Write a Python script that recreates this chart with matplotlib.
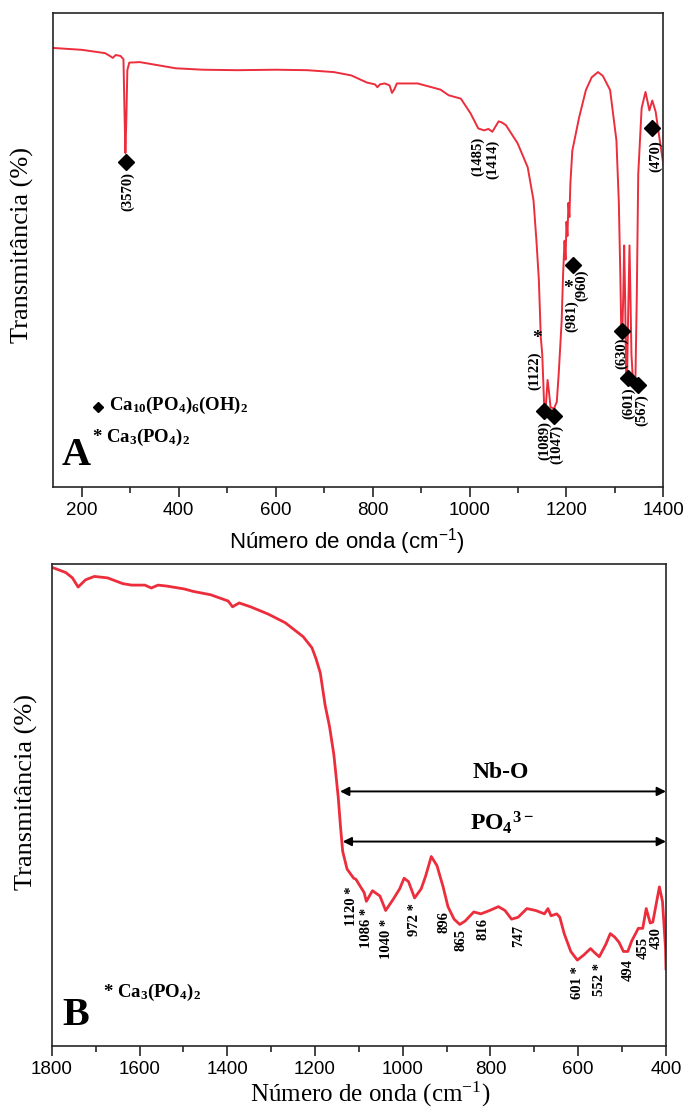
import matplotlib
matplotlib.use('Agg')
import matplotlib.pyplot as plt
from matplotlib.ticker import MultipleLocator

plt.rcParams['mathtext.default'] = 'regular'

SERIF = 'Liberation Serif'
SANS = 'Liberation Sans'
RED = '#EC2D3C'
FRAME = '#262626'

# ---------------------------
# Panel A data (as plotted on the original axis)
# ---------------------------
a_wn = [140, 200, 248, 258, 264, 270, 280, 286, 288, 290, 292, 294, 298, 320, 360, 394,
        450, 521, 600, 665, 720, 756, 788, 805, 810, 815, 825, 835, 840, 845, 850, 893,
        940, 957, 982, 1002, 1018, 1030, 1039, 1047, 1060, 1066, 1075, 1099, 1120, 1132,
        1138, 1143, 1147, 1150, 1154, 1157, 1161, 1164, 1167, 1174, 1180, 1184, 1190,
        1193, 1196, 1198, 1200, 1202, 1204, 1206, 1208, 1212, 1226, 1240, 1252, 1265,
        1275, 1290, 1303, 1308, 1311, 1313, 1315, 1317, 1319, 1321, 1323, 1325, 1327,
        1330, 1332, 1334, 1337, 1342, 1345, 1348, 1355, 1363, 1368, 1371, 1377, 1384,
        1392, 1400]
a_tr = [92.7, 92.3, 91.6, 91.0, 90.6, 91.2, 91.0, 90.3, 80.0, 70.5, 78.0, 88.0, 89.6,
        89.7, 89.0, 88.4, 88.1, 88.0, 88.1, 88.0, 87.6, 86.9, 85.4, 85.0, 84.4, 85.0,
        85.2, 84.8, 83.2, 84.0, 85.2, 85.2, 83.9, 82.7, 82.0, 78.9, 75.7, 75.3, 75.6,
        75.0, 77.2, 77.0, 76.4, 72.6, 67.5, 60.5, 52.0, 43.7, 31.6, 28.0, 17.0, 16.5,
        22.6, 20.0, 16.9, 16.5, 18.0, 24.0, 35.0, 45.0, 52.0, 48.0, 56.0, 53.0, 60.0,
        57.0, 64.0, 71.0, 78.0, 83.8, 86.5, 87.6, 86.8, 83.8, 73.2, 60.0, 45.0, 33.0,
        32.0, 40.0, 51.0, 40.0, 24.0, 23.0, 35.0, 51.0, 40.0, 28.0, 22.6, 21.5, 40.0,
        66.0, 80.0, 83.4, 81.0, 79.5, 81.6, 79.2, 73.5, 68.0]

# hydroxyapatite (diamond) and Ca3(PO4)2 (asterisk) markers
a_hap_x = [291, 1154, 1175, 1214, 1314, 1326, 1348, 1376]
a_hap_y = [68.6, 16.1, 15.0, 46.8, 33.0, 23.0, 21.5, 75.7]
a_tcp_x = [1140, 1203]
a_tcp_y = [31.4, 42.0]

a_labels = ['(3570)', '(1485)', '(1414)', '(470)', '(1122)', '(1089)', '(1047)',
            '(981)', '(960)', '(630)', '(601)', '(567)']
a_label_x = [294, 1016, 1048, 1383, 1134, 1154, 1179, 1210, 1231, 1314, 1328, 1355]
a_label_y = [62.4, 69.8, 69.2, 69.8, 24.5, 9.9, 8.9, 36.0, 42.6, 28.3, 17.7, 16.2]

# ---------------------------
# Panel B data
# ---------------------------
b_wn = [1800, 1768, 1753, 1740, 1723, 1703, 1673, 1638, 1618, 1588, 1573, 1558, 1538,
        1498, 1478, 1438, 1398, 1388, 1373, 1347, 1307, 1268, 1227, 1207, 1198, 1188,
        1177, 1167, 1157, 1147, 1142, 1137, 1127, 1112, 1107, 1088, 1083, 1069, 1052,
        1039, 1022, 1007, 997, 987, 973, 958, 948, 935, 922, 908, 897, 883, 870, 858,
        838, 822, 802, 782, 767, 752, 737, 717, 697, 677, 669, 662, 649, 642, 632, 617,
        602, 587, 572, 562, 552, 537, 527, 517, 507, 497, 487, 478, 463, 453, 445, 436,
        430, 415, 408, 401, 400]
b_tr = [99.3, 98.2, 97.1, 95.2, 96.7, 97.4, 97.1, 95.9, 95.6, 95.6, 95.0, 95.6, 95.4,
        94.8, 94.3, 93.6, 92.3, 91.1, 91.9, 91.1, 89.6, 87.8, 84.9, 82.6, 80.4, 77.4,
        70.7, 66.3, 60.4, 51.5, 45.6, 40.4, 36.7, 34.8, 34.6, 31.8, 30.0, 32.2, 31.1,
        28.1, 30.4, 32.6, 34.8, 34.1, 30.7, 32.6, 35.2, 39.3, 37.4, 33.0, 28.9, 26.3,
        25.2, 25.9, 27.8, 27.4, 28.1, 28.9, 28.1, 26.3, 26.7, 28.5, 28.1, 27.4, 28.5,
        27.0, 27.4, 26.7, 23.3, 19.6, 17.8, 18.9, 20.2, 19.3, 18.5, 21.1, 23.3, 22.6,
        21.5, 19.6, 19.6, 21.8, 24.4, 24.4, 28.5, 25.5, 25.7, 33.0, 30.0, 20.2, 16.0]

b_labels = ['1120 *', '1086 *', '1040 *', '972 *', '896', '865', '816', '747',
            '601 *', '552 *', '494', '455', '430']
b_label_x = [1117, 1083, 1038, 973, 907, 867, 817, 737, 602, 552, 487, 452, 422]
b_label_y = [28.9, 24.4, 22.2, 26.3, 25.7, 22.0, 24.3, 22.8, 13.2, 13.7, 15.8, 20.4, 22.3]

b_bands = ['Nb-O', 'PO$_4$$^{3-}$']
b_band_start = [1143, 1137]
b_band_end = [400, 400]
b_band_y = [52.8, 42.4]


def style_axes(ax):
    for s in ax.spines.values():
        s.set_color(FRAME)
        s.set_linewidth(1.2)
    ax.set_yticks([])
    ax.set_ylim(0, 100)
    ax.xaxis.set_major_locator(MultipleLocator(200))
    ax.xaxis.set_minor_locator(MultipleLocator(100))
    ax.tick_params(axis='x', which='major', direction='out', length=7, width=1.2,
                   color=FRAME, labelsize=13.5, pad=4)
    ax.tick_params(axis='x', which='minor', direction='out', length=4.5, width=1.2,
                   color=FRAME)
    for lab in ax.get_xticklabels():
        lab.set_family(SANS)


fig = plt.figure(figsize=(6.87, 11.12), dpi=100)

# ---------------------------
# Panel A
# ---------------------------
axA = fig.add_axes([0.0767, 0.562, 0.889, 0.426])
axA.plot(a_wn, a_tr, color=RED, lw=1.4)
axA.set_xlim(140, 1400)
style_axes(axA)
axA.plot(a_hap_x, a_hap_y, 'D', color='black', ms=8, ls='none')
for x, y in zip(a_tcp_x, a_tcp_y):
    axA.text(x, y, '*', family=SERIF, fontweight='bold', fontsize=14,
             ha='center', va='center')
for t, x, y in zip(a_labels, a_label_x, a_label_y):
    axA.text(x, y, t, rotation=90, family=SERIF, fontweight='bold', fontsize=10.5,
             ha='center', va='center')
axA.set_xlabel('Número de onda (cm$^{-1}$)', family=SANS, fontsize=16)
axA.xaxis.set_label_coords(0.482, -0.083)
axA.set_ylabel('Transmitância (%)', family=SERIF, fontsize=19)
axA.yaxis.set_label_coords(-0.03, 0.51)

axA.plot([0.074], [0.17], 'D', color='black', ms=5, transform=axA.transAxes)
axA.text(0.093, 0.172, 'Ca$_{10}$(PO$_4$)$_6$(OH)$_2$', transform=axA.transAxes,
         family=SERIF, fontweight='bold', fontsize=13.5, ha='left', va='center')
axA.text(0.064, 0.104, '* Ca$_3$(PO$_4$)$_2$', transform=axA.transAxes,
         family=SERIF, fontweight='bold', fontsize=13.5, ha='left', va='center')
axA.text(0.038, 0.066, 'A', transform=axA.transAxes, family=SERIF,
         fontweight='bold', fontsize=29, ha='center', va='center')

# ---------------------------
# Panel B
# ---------------------------
axB = fig.add_axes([0.0754, 0.0594, 0.894, 0.4335])
axB.plot(b_wn, b_tr, color=RED, lw=2.0)
axB.set_xlim(1800, 400)
style_axes(axB)
for t, x, y in zip(b_labels, b_label_x, b_label_y):
    axB.text(x, y, t, rotation=90, family=SERIF, fontweight='bold', fontsize=10.5,
             ha='center', va='center')
for name, x0, x1, y in zip(b_bands, b_band_start, b_band_end, b_band_y):
    axB.annotate('', xy=(x1, y), xytext=(x0, y),
                 arrowprops=dict(arrowstyle='<|-|>', color='black', lw=1.4,
                                 mutation_scale=13, shrinkA=0, shrinkB=0))
    axB.text((x0 + x1) / 2 + 6, y + 4.0, name, family=SERIF, fontweight='bold',
             fontsize=17, ha='center', va='center')
axB.set_xlabel('Número de onda (cm$^{-1}$)', family=SERIF, fontsize=18)
axB.xaxis.set_label_coords(0.518, -0.07)
axB.set_ylabel('Transmitância (%)', family=SERIF, fontsize=19)
axB.yaxis.set_label_coords(-0.022, 0.527)
axB.text(0.084, 0.112, '* Ca$_3$(PO$_4$)$_2$', transform=axB.transAxes,
         family=SERIF, fontweight='bold', fontsize=13.5, ha='left', va='center')
axB.text(0.039, 0.064, 'B', transform=axB.transAxes, family=SERIF,
         fontweight='bold', fontsize=29, ha='center', va='center')

fig.savefig('out.png', dpi=100)
